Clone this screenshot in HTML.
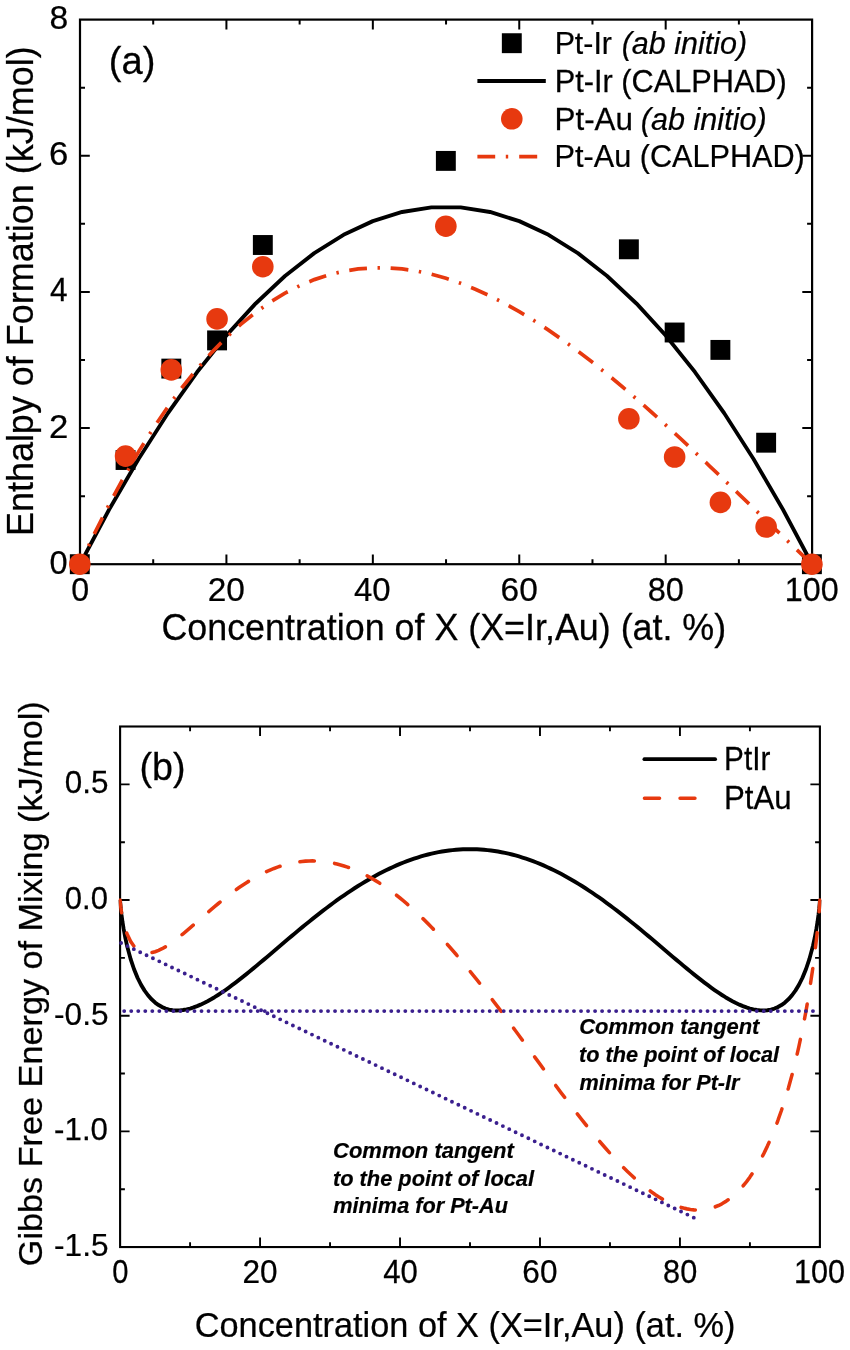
<!DOCTYPE html>
<html lang="en"><head><meta charset="utf-8"><title>Enthalpy of formation and Gibbs free energy of mixing: Pt-Ir, Pt-Au</title>
<style>html,body{margin:0;padding:0;background:#fff}svg{display:block}text{white-space:pre}</style></head>
<body>
<svg width="850" height="1350" viewBox="0 0 850 1350" font-family='"Liberation Sans", Arial, Helvetica, sans-serif'>
<rect width="850" height="1350" fill="#fff"/>
<g id="panel-a">
<rect x="80" y="19.6" width="732.1" height="544.6" fill="none" stroke="#000" stroke-width="2.2"/>
<path d="M226.42 564.2v-9.8M226.42 19.6v9.8M372.84 564.2v-9.8M372.84 19.6v9.8M519.26 564.2v-9.8M519.26 19.6v9.8M665.68 564.2v-9.8M665.68 19.6v9.8M153.21 564.2v-5.0M153.21 19.6v5.0M299.63 564.2v-5.0M299.63 19.6v5.0M446.05 564.2v-5.0M446.05 19.6v5.0M592.47 564.2v-5.0M592.47 19.6v5.0M738.89 564.2v-5.0M738.89 19.6v5.0M80 428.05h9.8M812.1 428.05h-9.8M80 291.9h9.8M812.1 291.9h-9.8M80 155.75h9.8M812.1 155.75h-9.8M80 496.13h5.0M812.1 496.13h-5.0M80 359.98h5.0M812.1 359.98h-5.0M80 223.83h5.0M812.1 223.83h-5.0M80 87.68h5.0M812.1 87.68h-5.0" stroke="#000" stroke-width="2.0" fill="none"/>
<rect x="69.85" y="554.25" width="19.9" height="19.9" fill="#000"/>
<rect x="115.61" y="450.05" width="19.9" height="19.9" fill="#000"/>
<rect x="161.36" y="358.65" width="19.9" height="19.9" fill="#000"/>
<rect x="207.12" y="330.45" width="19.9" height="19.9" fill="#000"/>
<rect x="252.88" y="235.05" width="19.9" height="19.9" fill="#000"/>
<rect x="435.9" y="150.95" width="19.9" height="19.9" fill="#000"/>
<rect x="618.92" y="239.35" width="19.9" height="19.9" fill="#000"/>
<rect x="664.68" y="322.55" width="19.9" height="19.9" fill="#000"/>
<rect x="710.44" y="339.95" width="19.9" height="19.9" fill="#000"/>
<rect x="756.19" y="432.75" width="19.9" height="19.9" fill="#000"/>
<rect x="801.95" y="554.25" width="19.9" height="19.9" fill="#000"/>
<g transform="scale(1 1.035)">
<polyline points="80,545.12 109.28,492.08 138.57,443.46 167.85,399.26 197.14,359.48 226.42,324.12 255.7,293.18 284.99,266.66 314.27,244.56 343.56,226.88 372.84,213.63 402.12,204.79 431.41,200.37 460.69,200.37 489.98,204.79 519.26,213.63 548.54,226.88 577.83,244.56 607.11,266.66 636.4,293.18 665.68,324.12 694.96,359.48 724.25,399.26 753.53,443.46 782.82,492.08 812.1,545.12" fill="none" stroke="#000" stroke-width="3.8" stroke-linejoin="round"/>
<polyline points="80,545.12 94.64,515.17 109.28,487.12 123.93,460.93 138.57,436.55 153.21,413.94 167.85,393.07 182.49,373.88 197.14,356.34 211.78,340.4 226.42,326.02 241.06,313.16 255.7,301.77 270.35,291.82 284.99,283.27 299.63,276.06 314.27,270.15 328.91,265.52 343.56,262.1 358.2,259.87 372.84,258.77 387.48,258.77 402.12,259.82 416.77,261.89 431.41,264.92 446.05,268.87 460.69,273.72 475.33,279.4 489.98,285.88 504.62,293.12 519.26,301.08 533.9,309.7 548.54,318.96 563.19,328.81 577.83,339.2 592.47,350.09 607.11,361.45 621.75,373.22 636.4,385.37 651.04,397.85 665.68,410.63 680.32,423.65 694.96,436.89 709.61,450.28 724.25,463.8 738.89,477.4 753.53,491.04 768.17,504.67 782.82,518.26 797.46,531.75 812.1,545.12" fill="none" stroke="#E7390F" stroke-width="3.6" stroke-dasharray="17.8 10.6 2.4 10.7" stroke-dashoffset="9"/>
</g>
<circle cx="79.8" cy="564.2" r="10.8" fill="#E7390F"/>
<circle cx="125.56" cy="456.1" r="10.8" fill="#E7390F"/>
<circle cx="171.31" cy="369.9" r="10.8" fill="#E7390F"/>
<circle cx="217.07" cy="318.9" r="10.8" fill="#E7390F"/>
<circle cx="262.82" cy="266.7" r="10.8" fill="#E7390F"/>
<circle cx="445.85" cy="226.2" r="10.8" fill="#E7390F"/>
<circle cx="628.88" cy="418.8" r="10.8" fill="#E7390F"/>
<circle cx="674.63" cy="457" r="10.8" fill="#E7390F"/>
<circle cx="720.39" cy="502.4" r="10.8" fill="#E7390F"/>
<circle cx="766.14" cy="527" r="10.8" fill="#E7390F"/>
<circle cx="811.9" cy="564.2" r="10.8" fill="#E7390F"/>
<rect x="501.85" y="33.25" width="19.9" height="19.9" fill="#000"/>
<line x1="477.4" y1="81" x2="545.8" y2="81" stroke="#000" stroke-width="4"/>
<circle cx="511.8" cy="118.8" r="10.8" fill="#E7390F"/>
<path d="M477.4 156.6h17.8M505.8 156.6h2.4M519.2 156.6h18" stroke="#E7390F" stroke-width="3.8" fill="none"/>
</g>
<g id="panel-b">
<clipPath id="cb"><rect x="118.6" y="726.5" width="702.8" height="520.55"/></clipPath>
<rect x="120.1" y="726.5" width="699.8" height="520.55" fill="none" stroke="#000" stroke-width="2.1"/>
<path d="M260.06 1247.05v-9.5M260.06 726.5v9.5M400.02 1247.05v-9.5M400.02 726.5v9.5M539.98 1247.05v-9.5M539.98 726.5v9.5M679.94 1247.05v-9.5M679.94 726.5v9.5M190.08 1247.05v-4.8M190.08 726.5v4.8M330.04 1247.05v-4.8M330.04 726.5v4.8M470 1247.05v-4.8M470 726.5v4.8M609.96 1247.05v-4.8M609.96 726.5v4.8M749.92 1247.05v-4.8M749.92 726.5v4.8M120.1 784.34h9.5M819.9 784.34h-9.5M120.1 900.02h9.5M819.9 900.02h-9.5M120.1 1015.69h9.5M819.9 1015.69h-9.5M120.1 1131.37h9.5M819.9 1131.37h-9.5M120.1 842.18h4.8M819.9 842.18h-4.8M120.1 957.86h4.8M819.9 957.86h-4.8M120.1 1073.53h4.8M819.9 1073.53h-4.8M120.1 1189.21h4.8M819.9 1189.21h-4.8" stroke="#000" stroke-width="1.9000000000000001" fill="none"/>
<g clip-path="url(#cb)">
<g transform="scale(1 1.035)">
<polyline points="120.1,869.58 120.1,869.6 120.11,869.74 120.17,870.77 120.31,872.61 120.8,877.72 121.5,883.62 122.55,890.98 123.6,897.29 125.35,906.29 127.1,913.95 130.6,926.56 134.1,936.61 137.59,944.8 141.09,951.56 144.59,957.14 148.09,961.76 151.59,965.55 155.09,968.63 158.59,971.1 162.09,973.01 165.59,974.44 169.09,975.44 172.58,976.04 176.08,976.3 179.58,976.24 183.08,975.9 186.58,975.29 190.08,974.45 193.58,973.39 197.08,972.13 200.58,970.69 204.08,969.09 207.57,967.34 211.07,965.46 214.57,963.45 218.07,961.32 221.57,959.1 225.07,956.78 228.57,954.38 232.07,951.9 235.57,949.36 239.07,946.76 242.56,944.1 246.06,941.4 249.56,938.66 253.06,935.89 256.56,933.08 260.06,930.25 263.56,927.41 267.06,924.54 270.56,921.67 274.06,918.8 277.55,915.92 281.05,913.04 284.55,910.17 288.05,907.31 291.55,904.46 295.05,901.63 298.55,898.81 302.05,896.02 305.55,893.25 309.05,890.51 312.54,887.79 316.04,885.11 319.54,882.46 323.04,879.84 326.54,877.27 330.04,874.73 333.54,872.24 337.04,869.79 340.54,867.38 344.04,865.02 347.53,862.71 351.03,860.45 354.53,858.24 358.03,856.08 361.53,853.98 365.03,851.93 368.53,849.93 372.03,848 375.53,846.12 379.03,844.31 382.52,842.55 386.02,840.86 389.52,839.23 393.02,837.66 396.52,836.16 400.02,834.72 403.52,833.35 407.02,832.04 410.52,830.8 414.02,829.63 417.51,828.53 421.01,827.49 424.51,826.53 428.01,825.63 431.51,824.81 435.01,824.05 438.51,823.37 442.01,822.76 445.51,822.21 449.01,821.75 452.5,821.35 456,821.02 459.5,820.77 463,820.59 466.5,820.48 470,820.44 473.5,820.48 477,820.59 480.5,820.77 484,821.02 487.5,821.35 490.99,821.75 494.49,822.21 497.99,822.76 501.49,823.37 504.99,824.05 508.49,824.81 511.99,825.63 515.49,826.53 518.99,827.49 522.48,828.53 525.98,829.63 529.48,830.8 532.98,832.04 536.48,833.35 539.98,834.72 543.48,836.16 546.98,837.66 550.48,839.23 553.98,840.86 557.48,842.55 560.97,844.31 564.47,846.12 567.97,848 571.47,849.93 574.97,851.93 578.47,853.98 581.97,856.08 585.47,858.24 588.97,860.45 592.47,862.71 595.96,865.02 599.46,867.38 602.96,869.79 606.46,872.24 609.96,874.73 613.46,877.27 616.96,879.84 620.46,882.46 623.96,885.11 627.46,887.79 630.95,890.51 634.45,893.25 637.95,896.02 641.45,898.81 644.95,901.63 648.45,904.46 651.95,907.31 655.45,910.17 658.95,913.04 662.45,915.92 665.94,918.8 669.44,921.67 672.94,924.54 676.44,927.41 679.94,930.25 683.44,933.08 686.94,935.89 690.44,938.66 693.94,941.4 697.43,944.1 700.93,946.76 704.43,949.36 707.93,951.9 711.43,954.38 714.93,956.78 718.43,959.1 721.93,961.32 725.43,963.45 728.93,965.46 732.42,967.34 735.92,969.09 739.42,970.69 742.92,972.13 746.42,973.39 749.92,974.45 753.42,975.29 756.92,975.9 760.42,976.24 763.92,976.3 767.41,976.04 770.91,975.44 774.41,974.44 777.91,973.01 781.41,971.1 784.91,968.63 788.41,965.55 791.91,961.76 795.41,957.14 798.91,951.56 802.4,944.8 805.9,936.61 809.4,926.56 812.9,913.95 814.65,906.29 816.4,897.29 817.45,890.98 818.5,883.62 819.2,877.72 819.69,872.61 819.83,870.77 819.89,869.74 819.9,869.6 819.9,869.58" fill="none" stroke="#000" stroke-width="3.8" stroke-linejoin="round"/>
<polyline points="120.1,869.58 120.1,869.6 120.11,869.73 120.17,870.65 120.31,872.25 120.8,876.52 121.5,881.23 122.55,886.84 123.6,891.4 125.35,897.54 127.1,902.4 130.6,909.57 134.1,914.4 137.59,917.58 141.09,919.54 144.59,920.55 148.09,920.8 151.59,920.43 155.09,919.56 158.59,918.27 162.09,916.63 165.59,914.7 169.09,912.53 172.58,910.17 176.08,907.64 179.58,904.99 183.08,902.24 186.58,899.4 190.08,896.51 193.58,893.58 197.08,890.63 200.58,887.66 204.08,884.71 207.57,881.77 211.07,878.86 214.57,875.99 218.07,873.17 221.57,870.4 225.07,867.69 228.57,865.05 232.07,862.49 235.57,860 239.07,857.6 242.56,855.29 246.06,853.07 249.56,850.95 253.06,848.93 256.56,847.01 260.06,845.2 263.56,843.5 267.06,841.91 270.56,840.43 274.06,839.06 277.55,837.81 281.05,836.67 284.55,835.65 288.05,834.75 291.55,833.97 295.05,833.31 298.55,832.77 302.05,832.35 305.55,832.05 309.05,831.87 312.54,831.82 316.04,831.88 319.54,832.06 323.04,832.37 326.54,832.79 330.04,833.33 333.54,833.99 337.04,834.77 340.54,835.66 344.04,836.67 347.53,837.8 351.03,839.04 354.53,840.39 358.03,841.85 361.53,843.43 365.03,845.11 368.53,846.9 372.03,848.8 375.53,850.81 379.03,852.92 382.52,855.13 386.02,857.44 389.52,859.85 393.02,862.36 396.52,864.96 400.02,867.66 403.52,870.45 407.02,873.33 410.52,876.3 414.02,879.36 417.51,882.5 421.01,885.72 424.51,889.03 428.01,892.41 431.51,895.87 435.01,899.4 438.51,903.01 442.01,906.69 445.51,910.43 449.01,914.24 452.5,918.12 456,922.05 459.5,926.05 463,930.1 466.5,934.2 470,938.36 473.5,942.56 477,946.81 480.5,951.1 484,955.44 487.5,959.81 490.99,964.22 494.49,968.67 497.99,973.14 501.49,977.64 504.99,982.17 508.49,986.72 511.99,991.29 515.49,995.87 518.99,1000.47 522.48,1005.08 525.98,1009.69 529.48,1014.32 532.98,1018.94 536.48,1023.56 539.98,1028.17 543.48,1032.78 546.98,1037.38 550.48,1041.96 553.98,1046.52 557.48,1051.07 560.97,1055.59 564.47,1060.08 567.97,1064.53 571.47,1068.96 574.97,1073.34 578.47,1077.69 581.97,1081.98 585.47,1086.23 588.97,1090.42 592.47,1094.56 595.96,1098.63 599.46,1102.64 602.96,1106.58 606.46,1110.44 609.96,1114.23 613.46,1117.93 616.96,1121.55 620.46,1125.08 623.96,1128.51 627.46,1131.84 630.95,1135.06 634.45,1138.18 637.95,1141.18 641.45,1144.06 644.95,1146.81 648.45,1149.44 651.95,1151.93 655.45,1154.27 658.95,1156.47 662.45,1158.52 665.94,1160.41 669.44,1162.13 672.94,1163.68 676.44,1165.05 679.94,1166.23 683.44,1167.22 686.94,1168.01 690.44,1168.6 693.94,1168.96 697.43,1169.11 700.93,1169.02 704.43,1168.69 707.93,1168.1 711.43,1167.26 714.93,1166.14 718.43,1164.75 721.93,1163.05 725.43,1161.06 728.93,1158.74 732.42,1156.09 735.92,1153.09 739.42,1149.73 742.92,1145.98 746.42,1141.84 749.92,1137.28 753.42,1132.28 756.92,1126.81 760.42,1120.86 763.92,1114.39 767.41,1107.36 770.91,1099.75 774.41,1091.51 777.91,1082.6 781.41,1072.95 784.91,1062.52 788.41,1051.21 791.91,1038.94 795.41,1025.59 798.91,1011.02 802.4,995.02 805.9,977.32 809.4,957.5 812.9,934.84 814.65,922.06 816.4,907.87 817.45,898.42 818.5,887.88 819.2,879.86 819.69,873.25 819.83,870.98 819.89,869.76 819.9,869.6 819.9,869.58" fill="none" stroke="#E7390F" stroke-width="3.5" stroke-linecap="round" stroke-dasharray="14.5 20.35" stroke-dashoffset="2.19" stroke-linejoin="round"/>
</g>
</g>
<line x1="124.2" y1="1011.1" x2="813.2" y2="1011.1" stroke="#3A1F8E" stroke-width="3.9" stroke-linecap="round" stroke-dasharray="0 7.028"/>
<line x1="121.1" y1="943.06" x2="693.85" y2="1217.69" stroke="#3A1F8E" stroke-width="3.9" stroke-linecap="round" stroke-dasharray="0 7.0566"/>
<line x1="644.4" y1="759.2" x2="715.1" y2="759.2" stroke="#000" stroke-width="3.8" stroke-linecap="round"/>
<path d="M644.4 798.3h15.2M680 798.3h15" stroke="#E7390F" stroke-width="3.4" stroke-linecap="round" fill="none"/>
</g>
<g id="labels">
<text transform="translate(49.55 29.1) scale(0.9898 1)" font-size="34" fill="#000" stroke="#000" stroke-width="0.25">8</text>
<text transform="translate(48.97 165.25) scale(1.0227 1)" font-size="34" fill="#000" stroke="#000" stroke-width="0.25">6</text>
<text transform="translate(50.11 301.4) scale(0.9298 1)" font-size="34" fill="#000" stroke="#000" stroke-width="0.25">4</text>
<text transform="translate(48.97 437.55) scale(1.0227 1)" font-size="34" fill="#000" stroke="#000" stroke-width="0.25">2</text>
<text transform="translate(49.58 573.7) scale(0.9588 1)" font-size="34" fill="#000" stroke="#000" stroke-width="0.25">0</text>
<text transform="translate(71.24 601.2) scale(0.9471 1)" font-size="34" fill="#000" stroke="#000" stroke-width="0.25">0</text>
<text transform="translate(207.75 601.2) scale(0.9837 1)" font-size="34" fill="#000" stroke="#000" stroke-width="0.25">20</text>
<text transform="translate(353.88 601.2) scale(0.9687 1)" font-size="34" fill="#000" stroke="#000" stroke-width="0.25">40</text>
<text transform="translate(500.59 601.2) scale(0.9837 1)" font-size="34" fill="#000" stroke="#000" stroke-width="0.25">60</text>
<text transform="translate(647.76 601.2) scale(0.9580 1)" font-size="34" fill="#000" stroke="#000" stroke-width="0.25">80</text>
<text transform="translate(784.83 601.2) scale(0.9506 1)" font-size="34" fill="#000" stroke="#000" stroke-width="0.25">100</text>
<text transform="translate(161.42 639.7) scale(0.9641 1)" font-size="37.2" fill="#000" stroke="#000" stroke-width="0.25">Concentration of X (X=Ir,Au) (at. %)</text>
<text transform="translate(33 536.11) rotate(-90) scale(0.9674 1)" font-size="37.2" fill="#000" stroke="#000" stroke-width="0.25">Enthalpy of Formation (kJ/mol)</text>
<text transform="translate(108.81 73.8) scale(1.0048 1)" font-size="38" fill="#000" stroke="#000" stroke-width="0.25">(a)</text>
<text transform="translate(554.63 54) scale(0.9574 1)" font-size="31.7" fill="#000" stroke="#000" stroke-width="0.25">Pt-Ir</text>
<text transform="translate(621.67 54) scale(0.9627 1)" font-size="31.7" font-style="italic" fill="#000" stroke="#000" stroke-width="0.25">(ab initio)</text>
<text transform="translate(554.7 91.8) scale(0.9694 1)" font-size="31.7" fill="#000" stroke="#000" stroke-width="0.25">Pt-Ir (CALPHAD)</text>
<text transform="translate(554.55 129.6) scale(0.9890 1)" font-size="31.7" fill="#000" stroke="#000" stroke-width="0.25">Pt-Au</text>
<text transform="translate(640.87 129.6) scale(0.9650 1)" font-size="31.7" font-style="italic" fill="#000" stroke="#000" stroke-width="0.25">(ab initio)</text>
<text transform="translate(554.61 167.4) scale(0.9669 1)" font-size="31.7" fill="#000" stroke="#000" stroke-width="0.25">Pt-Au (CALPHAD)</text>
<text transform="translate(64.82 793.34) scale(0.9813 1)" font-size="32" fill="#000" stroke="#000" stroke-width="0.25">0.5</text>
<text transform="translate(64.83 909.02) scale(0.9698 1)" font-size="32" fill="#000" stroke="#000" stroke-width="0.25">0.0</text>
<text transform="translate(54.11 1024.69) scale(0.9859 1)" font-size="32" fill="#000" stroke="#000" stroke-width="0.25">-0.5</text>
<text transform="translate(54.12 1140.37) scale(0.9767 1)" font-size="32" fill="#000" stroke="#000" stroke-width="0.25">-1.0</text>
<text transform="translate(54.11 1256.05) scale(0.9859 1)" font-size="32" fill="#000" stroke="#000" stroke-width="0.25">-1.5</text>
<text transform="translate(112.19 1282.9) scale(0.9012 1)" font-size="32.4" fill="#000" stroke="#000" stroke-width="0.25">0</text>
<text transform="translate(242.43 1282.9) scale(0.9759 1)" font-size="32.4" fill="#000" stroke="#000" stroke-width="0.25">20</text>
<text transform="translate(383.13 1282.9) scale(0.9618 1)" font-size="32.4" fill="#000" stroke="#000" stroke-width="0.25">40</text>
<text transform="translate(522.35 1282.9) scale(0.9759 1)" font-size="32.4" fill="#000" stroke="#000" stroke-width="0.25">60</text>
<text transform="translate(663.08 1282.9) scale(0.9468 1)" font-size="32.4" fill="#000" stroke="#000" stroke-width="0.25">80</text>
<text transform="translate(794.09 1282.9) scale(0.9448 1)" font-size="32.4" fill="#000" stroke="#000" stroke-width="0.25">100</text>
<text transform="translate(194.69 1336.8) scale(0.9836 1)" font-size="34.9" fill="#000" stroke="#000" stroke-width="0.25">Concentration of X (X=Ir,Au) (at. %)</text>
<text transform="translate(42.1 1266.2) rotate(-90) scale(1.0040 1)" font-size="34.1" fill="#000" stroke="#000" stroke-width="0.25">Gibbs Free Energy of Mixing (kJ/mol)</text>
<text transform="translate(139.44 779.6) scale(0.9908 1)" font-size="38" fill="#000" stroke="#000" stroke-width="0.25">(b)</text>
<text transform="translate(724.08 770) scale(0.9123 1)" font-size="32.6" fill="#000" stroke="#000" stroke-width="0.25">PtIr</text>
<text transform="translate(723.96 809) scale(0.9578 1)" font-size="32.6" fill="#000" stroke="#000" stroke-width="0.25">PtAu</text>
<text transform="translate(579.27 1034) scale(1.0106 1)" font-size="21.7" font-style="italic" font-weight="bold" fill="#000" stroke="#000" stroke-width="0.2">Common tangent</text>
<text transform="translate(579.12 1062.2) scale(1.0003 1)" font-size="21.7" font-style="italic" font-weight="bold" fill="#000" stroke="#000" stroke-width="0.2">to the point of local</text>
<text transform="translate(579.46 1089.6) scale(0.9990 1)" font-size="21.7" font-style="italic" font-weight="bold" fill="#000" stroke="#000" stroke-width="0.2">minima for Pt-Ir</text>
<text transform="translate(333.07 1158) scale(1.0134 1)" font-size="21.7" font-style="italic" font-weight="bold" fill="#000" stroke="#000" stroke-width="0.2">Common tangent</text>
<text transform="translate(332.92 1185.6) scale(1.0058 1)" font-size="21.7" font-style="italic" font-weight="bold" fill="#000" stroke="#000" stroke-width="0.2">to the point of local</text>
<text transform="translate(333.26 1213.3) scale(1.0000 1)" font-size="21.7" font-style="italic" font-weight="bold" fill="#000" stroke="#000" stroke-width="0.2">minima for Pt-Au</text>
</g>
</svg>
</body></html>
